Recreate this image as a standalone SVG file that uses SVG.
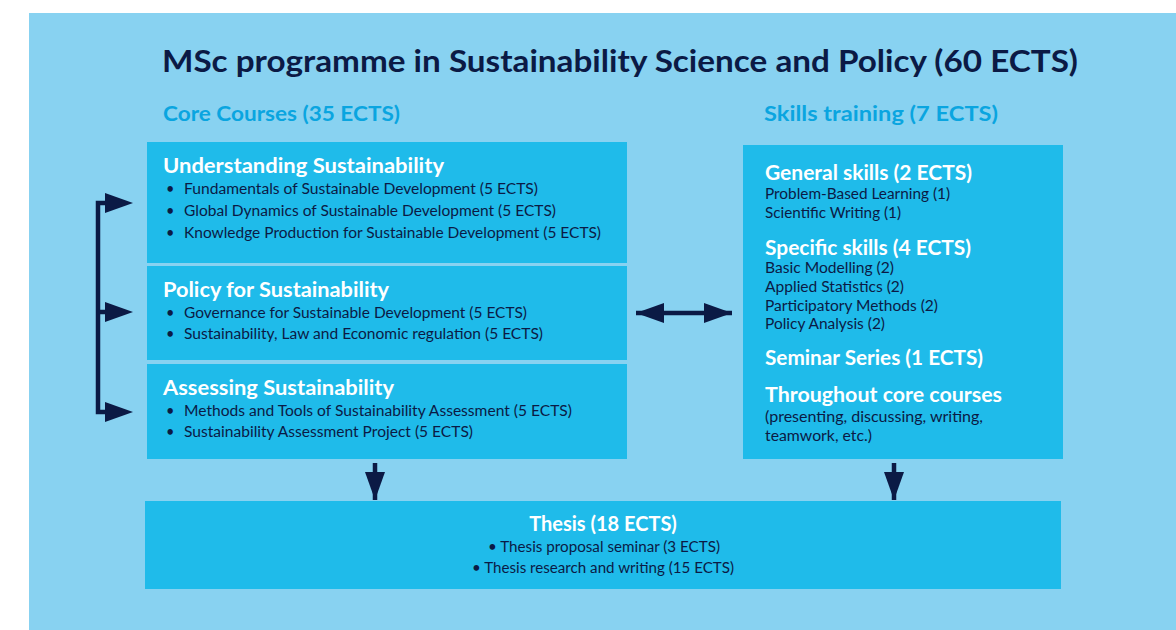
<svg xmlns="http://www.w3.org/2000/svg" width="1176" height="630" viewBox="0 0 1176 630">
<style>
.box{fill:#1FBBEA}
.t{font-family:Lato,"Open Sans","Liberation Sans",sans-serif}
.title{font-size:30px;font-weight:700;fill:#0B1A45}
.sec{font-size:21px;font-weight:700;fill:#0AA5E0}
.h{font-size:20px;font-weight:700;fill:#FFFFFF}
.b{font-size:14.5px;fill:#0B1A45}
.line{stroke:#0B1A45;stroke-width:4.5;fill:none}
.head{fill:#0B1A45}
</style>
<defs>
<marker id="ah" viewBox="0 0 28 20" refX="28" refY="10" markerWidth="28" markerHeight="20" markerUnits="userSpaceOnUse" orient="auto-start-reverse">
<path d="M0,0 L28,10 L0,20 Z" class="head"/>
</marker>
</defs>
<rect x="0" y="0" width="1176" height="630" fill="#FFFFFF"/>
<rect x="29" y="13" width="1147" height="617" fill="#88D2F1"/>
<text class="t title" x="162" y="72" textLength="916" lengthAdjust="spacingAndGlyphs">MSc programme in Sustainability Science and Policy (60 ECTS)</text>
<text class="t sec" x="163" y="121" textLength="237" lengthAdjust="spacingAndGlyphs">Core Courses (35 ECTS)</text>
<text class="t sec" x="764" y="121" textLength="234" lengthAdjust="spacingAndGlyphs">Skills training (7 ECTS)</text>

<g id="understanding">
<rect class="box" x="147" y="142" width="480" height="121"/>
<text class="t h" x="163" y="173" textLength="281" lengthAdjust="spacingAndGlyphs">Understanding Sustainability</text>
<text class="t b" x="166" y="194">•</text><text class="t b" x="184" y="194" textLength="354" lengthAdjust="spacingAndGlyphs">Fundamentals of Sustainable Development (5 ECTS)</text>
<text class="t b" x="166" y="216">•</text><text class="t b" x="184" y="216" textLength="372" lengthAdjust="spacingAndGlyphs">Global Dynamics of Sustainable Development (5 ECTS)</text>
<text class="t b" x="166" y="238">•</text><text class="t b" x="184" y="238" textLength="417" lengthAdjust="spacingAndGlyphs">Knowledge Production for Sustainable Development (5 ECTS)</text>
</g>
<g id="policy">
<rect class="box" x="147" y="266" width="480" height="94"/>
<text class="t h" x="163" y="297" textLength="226" lengthAdjust="spacingAndGlyphs">Policy for Sustainability</text>
<text class="t b" x="166" y="318">•</text><text class="t b" x="184" y="318" textLength="343" lengthAdjust="spacingAndGlyphs">Governance for Sustainable Development (5 ECTS)</text>
<text class="t b" x="166" y="339">•</text><text class="t b" x="184" y="339" textLength="359" lengthAdjust="spacingAndGlyphs">Sustainability, Law and Economic regulation (5 ECTS)</text>
</g>
<g id="assessing">
<rect class="box" x="147" y="364" width="480" height="95"/>
<text class="t h" x="163" y="395" textLength="231" lengthAdjust="spacingAndGlyphs">Assessing Sustainability</text>
<text class="t b" x="166" y="416">•</text><text class="t b" x="184" y="416" textLength="388" lengthAdjust="spacingAndGlyphs">Methods and Tools of Sustainability Assessment (5 ECTS)</text>
<text class="t b" x="166" y="437">•</text><text class="t b" x="184" y="437" textLength="289" lengthAdjust="spacingAndGlyphs">Sustainability Assessment Project (5 ECTS)</text>
</g>
<g id="skills">
<rect class="box" x="743" y="145" width="320" height="314"/>
<text class="t h" x="765" y="180" textLength="207" lengthAdjust="spacingAndGlyphs">General skills (2 ECTS)</text>
<text class="t b" x="765" y="199" textLength="185" lengthAdjust="spacingAndGlyphs">Problem-Based Learning (1)</text>
<text class="t b" x="765" y="218" textLength="136" lengthAdjust="spacingAndGlyphs">Scientific Writing (1)</text>
<text class="t h" x="765" y="255" textLength="206" lengthAdjust="spacingAndGlyphs">Specific skills (4 ECTS)</text>
<text class="t b" x="765" y="273" textLength="129" lengthAdjust="spacingAndGlyphs">Basic Modelling (2)</text>
<text class="t b" x="765" y="292" textLength="139" lengthAdjust="spacingAndGlyphs">Applied Statistics (2)</text>
<text class="t b" x="765" y="311" textLength="173" lengthAdjust="spacingAndGlyphs">Participatory Methods (2)</text>
<text class="t b" x="765" y="329" textLength="120" lengthAdjust="spacingAndGlyphs">Policy Analysis (2)</text>
<text class="t h" x="765" y="365" textLength="218" lengthAdjust="spacingAndGlyphs">Seminar Series (1 ECTS)</text>
<text class="t h" x="765" y="402" textLength="237" lengthAdjust="spacingAndGlyphs">Throughout core courses</text>
<text class="t b" x="765" y="422" textLength="218" lengthAdjust="spacingAndGlyphs">(presenting, discussing, writing,</text>
<text class="t b" x="765" y="441" textLength="107" lengthAdjust="spacingAndGlyphs">teamwork, etc.)</text>
</g>
<g id="thesis">
<rect class="box" x="145" y="501" width="916" height="88"/>
<text class="t h" x="603" y="531" text-anchor="middle">Thesis (18 ECTS)</text>
<text class="t b" x="488" y="552" textLength="232" lengthAdjust="spacingAndGlyphs">• Thesis proposal seminar (3 ECTS)</text>
<text class="t b" x="472" y="573" textLength="262" lengthAdjust="spacingAndGlyphs">• Thesis research and writing (15 ECTS)</text>
</g>
<g id="connectors">
<path class="line" d="M105,203 H98 V412 H105"/>
<path class="line" d="M98,312 H105"/>
<path class="head" d="M105,193 L133,203 L105,213 Z"/>
<path class="head" d="M105,302 L133,312 L105,322 Z"/>
<path class="head" d="M105,402 L133,412 L105,422 Z"/>
<line class="line" x1="636" y1="313" x2="732" y2="313" marker-start="url(#ah)" marker-end="url(#ah)"/>
<line class="line" x1="375" y1="463" x2="375" y2="500" marker-end="url(#ah)"/>
<line class="line" x1="894" y1="463" x2="894" y2="500" marker-end="url(#ah)"/>
</g>
</svg>
